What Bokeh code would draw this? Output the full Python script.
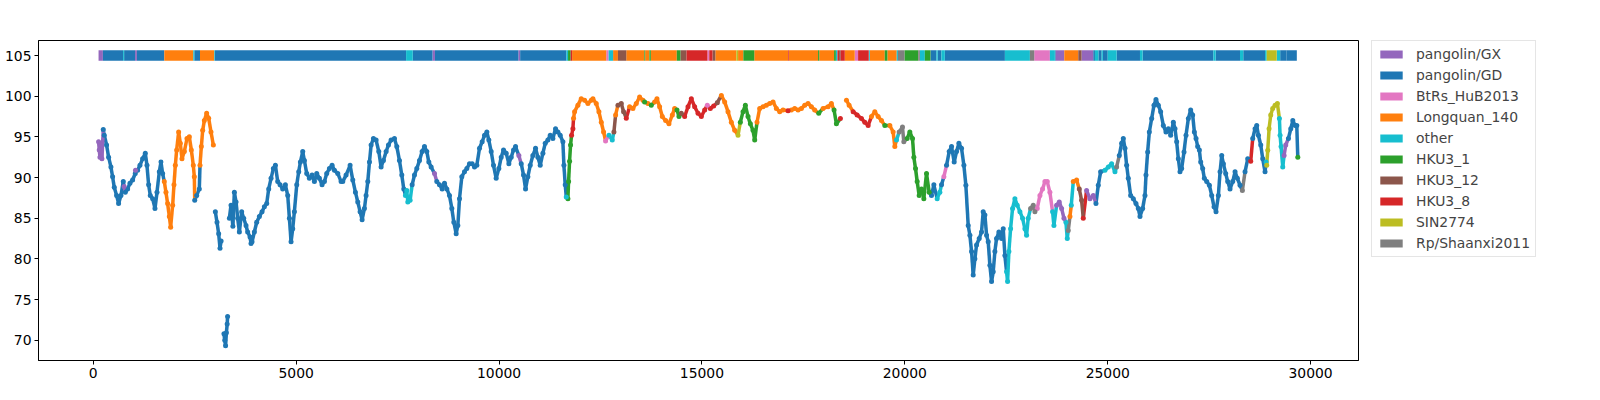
from bokeh.plotting import figure
from bokeh.models import Range1d, FixedTicker, Legend, LegendItem, ColumnDataSource
from bokeh.embed import file_html
from bokeh.resources import INLINE

# ---- categories ----
codes = ["GX", "GD", "HuB", "LQ", "oth", "H1", "H12", "H8", "SIN", "Sha"]
names = {"GX": "pangolin/GX", "GD": "pangolin/GD", "HuB": "BtRs_HuB2013",
         "LQ": "Longquan_140", "oth": "other", "H1": "HKU3_1", "H12": "HKU3_12",
         "H8": "HKU3_8", "SIN": "SIN2774", "Sha": "Rp/Shaanxi2011"}
colors = {"GX": "#9467bd", "GD": "#1f77b4", "HuB": "#e377c2", "LQ": "#ff7f0e",
          "oth": "#17becf", "H1": "#2ca02c", "H12": "#8c564b", "H8": "#d62728",
          "SIN": "#bcbd22", "Sha": "#7f7f7f"}

# ---- similarity points (position, identity %, closest source) ----
pos = [131, 147, 164, 190, 213,
       246, 271, 328, 378, 435, 476, 517, 575, 624, 682, 739, 760, 789, 846, 904, 969, 1035, 1040,
       1093, 1150, 1216, 1282, 1323, 1364, 1405, 1463, 1520, 1570, 1627, 1668, 1709,
       1750, 1791, 1832, 1874, 1907, 1956, 1989, 2022, 2055, 2104, 2145, 2186, 2244, 2309, 2367, 2416, 2465, 2490,
       2500, 2548, 2613,
       2630, 2663, 2696, 2737, 2794, 2844, 2901, 2959,
       3008, 3049, 3090, 3123, 3150,
       3220, 3240, 3260, 3280, 3300, 3310,
       3354, 3394, 3440, 3477, 3518, 3559, 3600, 3657, 3707, 3764, 3805, 3863, 3887, 3912, 3970, 4027, 4093,
       4159, 4216, 4274, 4323, 4381, 4438, 4488, 4545, 4603, 4668, 4734, 4792, 4833, 4874, 4915, 4956,
       5014, 5063, 5104, 5162, 5203, 5260, 5326, 5392, 5449, 5507, 5573, 5638, 5696, 5753, 5819, 5885,
       5943, 6025, 6107, 6148, 6230, 6329, 6395, 6460, 6518, 6575, 6625, 6682, 6723, 6765, 6806, 6847,
       6904, 6970, 7036, 7093, 7151, 7217, 7274, 7340, 7422, 7480, 7545, 7603, 7652,
       7693, 7726, 7751, 7808,
       7858, 7915, 7973, 8039, 8104, 8162, 8219, 8269, 8326,
       8409,
       8466, 8532, 8598, 8655, 8713, 8778, 8836, 8885, 8943, 8984, 9025, 9082, 9148, 9206, 9271, 9337,
       9395, 9452, 9518, 9584, 9642, 9699, 9748, 9806, 9863, 9929, 9995, 10053, 10110, 10176, 10242,
       10299, 10357, 10406,
       10488,
       10546, 10603, 10653, 10710, 10768, 10833, 10899, 10957, 11014, 11080, 11138, 11203, 11261, 11326,
       11392, 11450, 11507, 11573, 11598, 11631,
       11656,
       11697, 11713, 11738, 11762,
       11787, 11820,
       11836, 11861, 11943, 12025, 12108, 12190, 12272, 12313, 12395, 12461, 12519, 12576,
       12625,
       12708, 12790,
       12831,
       12872,
       12930, 13012, 13069,
       13135,
       13217, 13299, 13382, 13464, 13546,
       13587,
       13669,
       13751,
       13834, 13891, 13957, 14023, 14105, 14187, 14270, 14327,
       14385, 14434,
       14491,
       14574, 14656, 14738, 14820, 14903, 14985, 15067,
       15132,
       15206, 15289,
       15379,
       15478, 15560, 15642, 15724, 15807,
       15889,
       15946, 16012, 16070, 16135, 16193, 16258, 16300,
       16357, 16423, 16505, 16587, 16670, 16752, 16834, 16916, 16998,
       17122,
       17204, 17286, 17369, 17451, 17533, 17615, 17697, 17779,
       17878,
       17985, 18108, 18190,
       18256, 18313,
       18412,
       18561, 18627,
       18726, 18824, 18931, 19013, 19096,
       19178, 19260, 19342, 19424,
       19507,
       19630, 19712, 19753,
       19794,
       19860, 19942, 19975,
       20057, 20123, 20189, 20222, 20263, 20304, 20353, 20411, 20468, 20534, 20600,
       20657, 20715,
       20797, 20863,
       20904,
       20962,
       21028, 21093, 21151, 21216, 21274, 21332, 21397, 21455, 21504,
       21562, 21603, 21644, 21685, 21726, 21767, 21833, 21890, 21931, 21973, 22014, 22055, 22096, 22137,
       22178, 22219, 22260, 22318, 22383, 22425, 22466,
       22507, 22532, 22564, 22606, 22655, 22712, 22770, 22836, 22901, 22959, 23000, 23041,
       23099, 23164, 23205,
       23263, 23329, 23394, 23452, 23510, 23575,
       23641, 23674,
       23740, 23806, 23863, 23921,
       23970, 24003,
       24027,
       24069,
       24102,
       24151, 24233,
       24299, 24356,
       24397,
       24479, 24562, 24644,
       24710, 24767, 24825,
       24932, 25014, 25096, 25178,
       25219,
       25285, 25343, 25384, 25425, 25466, 25507, 25565, 25630, 25696, 25754, 25795, 25861, 25918, 25943,
       25984, 26025, 26083, 26140, 26189, 26247, 26304, 26370, 26436, 26494, 26551, 26617, 26658, 26699,
       26740, 26781, 26822, 26880, 26929, 26987, 27044, 27093, 27135, 27176, 27217, 27258, 27291, 27340,
       27381, 27439, 27505, 27562, 27620, 27669, 27727, 27768, 27809, 27850, 27907, 27957, 28014, 28080,
       28138, 28195, 28261,
       28318,
       28384, 28450,
       28524,
       28573, 28631, 28672, 28713, 28771, 28820, 28877,
       28902,
       28918, 28943, 28976, 29017, 29066, 29124, 29181,
       29231, 29247, 29272, 29313,
       29346, 29387,
       29453, 29511, 29561, 29618, 29659,
       29684]

ident = [94.4, 93.4, 92.5, 94.0, 92.3,
         95.9, 95.2, 94.0, 92.5, 91.3, 90.1, 88.8, 87.8, 86.8, 87.8, 89.5, 88.9, 88.2, 88.6, 89.3, 89.7, 90.5, 90.9,
         90.9, 91.5, 92.3, 93.0, 91.5, 89.1, 87.8, 87.4, 86.2, 88.2, 90.7, 91.9, 90.5,
         89.5, 88.2, 86.8, 85.2, 83.9, 86.6, 89.1, 91.5, 93.4, 95.6, 94.2, 92.3, 93.2, 94.8, 95.0, 93.4, 91.5, 90.1,
         87.2, 87.8, 88.6,
         91.5, 93.8, 95.8, 97.0, 97.9, 97.3, 95.6, 94.0,
         85.8, 84.5, 83.1, 81.3, 82.2,
         70.8, 70.0, 69.3, 70.9, 72.0, 72.9,
         85.0, 86.6, 84.0, 88.2, 87.0, 85.0, 83.3, 85.8, 85.0, 84.1, 83.3, 82.7, 81.9, 82.1, 83.3, 84.5, 85.2,
         85.8, 86.4, 86.8, 88.6, 89.9, 91.1, 91.5, 89.5, 89.1, 88.6, 89.1, 87.8, 85.0, 82.1, 83.7, 85.8,
         89.1, 90.7, 91.9, 93.2, 92.1, 90.5, 89.9, 90.3, 89.5, 90.5, 89.9, 89.1, 89.5, 90.5, 91.1, 91.5,
         90.9, 90.5, 89.5, 89.5, 90.3, 91.5, 89.7, 88.2, 87.0, 85.8, 84.8, 86.2, 87.8, 89.5, 91.9, 94.0,
         94.8, 94.6, 93.2, 91.3, 92.1, 93.2, 94.0, 94.6, 94.8, 93.8, 92.1, 90.3, 88.6,
         87.8, 88.4, 87.0, 87.2,
         89.1, 90.3, 91.1, 92.1, 93.2, 93.8, 93.2, 91.9, 91.3,
         90.5,
         89.5, 89.1, 88.6, 89.3, 88.6, 87.8, 86.2, 84.5, 83.1, 84.1, 87.4, 90.1, 90.7, 91.1, 91.7, 91.7,
         91.3, 91.5, 93.6, 94.4, 95.2, 95.6, 94.6, 93.2, 91.5, 89.9, 91.1, 92.5, 93.4, 93.0, 91.7,
         92.5, 93.4, 93.8,
         92.7,
         91.7, 90.3, 88.6, 90.1, 91.5, 92.7, 93.6, 92.5, 91.5, 93.0, 94.2, 94.6, 95.2, 94.8,
         96.0, 95.6, 95.2, 94.4, 91.5, 89.1,
         87.6,
         87.4, 89.5, 92.0, 94.0,
         95.2, 96.0,
         97.3, 98.1, 98.9, 99.7, 99.5, 99.1, 99.5, 99.7, 99.1, 98.1, 96.8, 95.6,
         94.5,
         95.2, 94.6,
         95.6,
         97.7,
         98.9, 99.1, 98.1,
         97.3,
         98.7, 98.5, 99.1, 99.9, 99.5,
         99.3,
         99.1,
         98.9,
         99.3, 99.7, 98.7, 97.5, 97.0, 96.6, 97.7, 98.5,
         98.3, 97.5,
         97.9,
         97.5, 98.7, 99.7, 98.7, 97.9, 97.5, 98.3,
         98.9,
         98.5, 98.8,
         99.2,
         100.1, 99.3, 98.1, 96.8, 95.8,
         95.2,
         96.8, 98.1, 98.9, 97.5, 96.6, 95.8, 94.6,
         96.8, 98.5, 98.7, 98.9, 99.1, 99.3, 98.5, 98.1, 98.3,
         98.2,
         98.3, 98.5, 98.3, 98.5, 98.9, 99.1, 98.7, 98.3,
         97.9,
         98.5, 98.7, 99.1,
         98.3, 96.6,
         97.25,
         99.5, 98.9,
         98.1, 97.7, 97.25, 96.8, 96.4,
         97.5, 98.1, 97.5, 97.0,
         96.4,
         96.4, 95.6, 93.8,
         94.6,
         95.6, 96.2, 94.4,
         94.8, 95.6, 94.8, 92.5, 91.1, 89.5, 87.8, 88.6, 87.4, 90.5, 88.2,
         87.8, 89.1,
         87.4, 88.2,
         89.1,
         90.1,
         91.5, 93.2, 93.8, 91.9, 93.2, 94.2, 93.6, 91.5, 89.05,
         84.1, 82.9, 80.9, 78.0, 80.0, 81.7, 82.5, 83.3, 85.8, 85.4, 82.9, 82.1, 79.2, 77.2,
         78.4, 80.9, 82.5, 83.3, 82.5, 83.7, 80.4,
         78.4, 77.2, 80.9, 83.7, 86.2, 87.4, 86.6, 85.8, 85.0, 83.7, 82.9, 85.0,
         86.2, 86.6, 85.8,
         86.2, 87.8, 88.6, 89.5, 89.5, 88.2,
         85.8, 84.1,
         86.6, 87.0, 86.2, 85.0,
         84.5, 82.5,
         83.5,
         85.2,
         86.6,
         89.5, 89.7,
         88.6, 87.2,
         85.0,
         88.4, 87.4, 87.8,
         86.8, 89.05, 90.7,
         90.9, 91.3, 91.7, 90.7,
         91.3,
         92.7, 94.2, 94.8, 93.6, 91.5, 89.9, 87.8, 87.4, 86.8, 86.2, 85.2, 86.2, 87.8, 90.3,
         93.15, 95.6, 97.25, 98.9, 99.6, 98.9, 98.1, 96.4, 95.6, 96.0, 95.2, 96.8, 96.0, 94.4,
         92.3, 90.7, 91.1, 93.15, 95.2, 97.25, 98.3, 97.7, 95.6, 94.8, 93.8, 93.4, 91.9, 91.1,
         89.9, 89.5, 89.05, 87.8, 86.4, 85.8, 87.8, 90.7, 92.7, 91.7, 90.5, 89.5, 88.6, 89.5,
         90.7, 89.9, 89.05,
         88.4,
         90.7, 92.3,
         92.0,
         94.8, 96.0, 96.4, 95.2, 94.0, 92.3, 90.7,
         91.9,
         91.5, 93.35, 96.0, 97.7, 98.5, 98.9, 99.1,
         97.25, 95.2, 93.8, 91.3,
         92.7, 94.0,
         94.8, 96.0, 97.0, 96.4, 96.4,
         92.5]

src = (["GX"] * 5
       + ["GD"] * 11 + ["GX"] + ["GD"] * 5 + ["GX"]
       + ["GD"] * 13
       + ["LQ"] * 18
       + ["GD"] * 3
       + ["LQ"] * 8
       + ["GD"] * 5
       + ["GD"] * 6
       + ["GD"] * 17
       + ["GD"] * 16
       + ["GD"] * 16
       + ["GD"] * 16
       + ["GD"] * 13
       + ["oth"] * 4
       + ["GD"] * 9
       + ["GX"]
       + ["GD"] * 16
       + ["GD"] * 15
       + ["GD"] * 3
       + ["GX"]
       + ["GD"] * 14
       + ["GD"] * 6
       + ["oth"]
       + ["H1"] * 4
       + ["H8"] * 2
       + ["LQ"] * 12
       + ["HuB"]
       + ["oth"] * 2
       + ["H12"]
       + ["LQ"]
       + ["H12"] * 3
       + ["H8"]
       + ["LQ"] * 5
       + ["H1"]
       + ["LQ"]
       + ["H1"]
       + ["LQ"] * 8
       + ["H1"] * 2
       + ["H12"]
       + ["H8"] * 7
       + ["HuB"]
       + ["H8"] * 2
       + ["H12"]
       + ["LQ"] * 5
       + ["SIN"]
       + ["H1"] * 7
       + ["LQ"] * 9
       + ["H8"]
       + ["LQ"] * 8
       + ["H1"]
       + ["LQ"] * 3
       + ["H1"] * 2
       + ["H8"]
       + ["LQ"] * 2
       + ["H8"] * 5
       + ["LQ"] * 4
       + ["H1"]
       + ["LQ"] * 3
       + ["oth"]
       + ["Sha"] * 3
       + ["H1"] * 11
       + ["GD"] * 2
       + ["oth"] * 2
       + ["GD"]
       + ["HuB"]
       + ["GD"] * 9
       + ["GD"] * 14
       + ["GD"] * 7
       + ["oth"] * 12
       + ["Sha"] * 3
       + ["HuB"] * 6
       + ["oth"] * 2
       + ["GX"] * 4
       + ["oth"] * 2
       + ["Sha"]
       + ["LQ"]
       + ["oth"]
       + ["LQ"] * 2
       + ["H12"] * 2
       + ["H8"]
       + ["GX"] * 3
       + ["GD"] * 3
       + ["oth"] * 4
       + ["Sha"]
       + ["GD"] * 14
       + ["GD"] * 14
       + ["GD"] * 14
       + ["GD"] * 14
       + ["GD"] * 3
       + ["Sha"]
       + ["GD"] * 2
       + ["H8"]
       + ["GD"] * 7
       + ["oth"]
       + ["SIN"] * 7
       + ["oth"] * 4
       + ["GX"] * 2
       + ["GD"] * 5
       + ["H1"])

# ---- closest-source bar along the genome ----
bar_start = [130, 237, 735, 760, 1030, 1075, 1750, 2465, 2490, 2630, 2983, 3000, 7709, 7874, 8360,
             8420, 10475, 10520, 11660, 11700, 11765, 11800, 12642, 12700, 12810, 12930, 13135,
             13580, 13600, 13705, 13740, 14380, 14475, 14620, 15135, 15180, 15260, 15330, 15848,
             15890, 16020, 16290, 17122, 17140, 17862, 17890, 18256, 18300, 18340, 18380, 18420,
             18520, 18765, 18848, 19111, 19136, 19505, 19570, 19800, 19830, 19990, 20330, 20370,
             20493, 20632, 20780, 20810, 20900, 20986, 22466, 23082, 23189, 23575, 23698, 23715,
             23929, 24274, 24356, 24644, 24685, 24770, 24850, 24880, 25000, 25220, 25795, 25860,
             27603, 27660, 28260, 28340, 28877, 28918, 29165, 29250, 29410]
bar_end = bar_start[1:] + [29660]
bar_src = ["GX", "GD", "oth", "GD", "GX", "GD", "LQ", "oth", "GD", "LQ", "oth", "GD", "oth", "GD", "GX",
           "GD", "GX", "GD", "oth", "H1", "H8", "LQ", "HuB", "oth", "LQ", "H12", "LQ",
           "H1", "LQ", "H1", "LQ", "H1", "H12", "H8", "HuB", "H8", "H12", "LQ", "SIN",
           "LQ", "H1", "LQ", "H8", "LQ", "H1", "LQ", "H1", "oth", "H8", "H12", "H8",
           "LQ", "HuB", "H8", "oth", "LQ", "H1", "LQ", "oth", "Sha", "H1", "Sha", "oth",
           "H1", "GD", "oth", "GD", "oth", "GD", "oth", "Sha", "HuB", "oth", "GD", "GX",
           "LQ", "H12", "GX", "GD", "oth", "GD", "oth", "GD", "oth", "GD", "oth", "GD",
           "oth", "GD", "oth", "GD", "oth", "SIN", "oth", "GD", "GD"]

x_ticks = [0, 5000, 10000, 15000, 20000, 25000, 30000]
y_ticks = [70, 75, 80, 85, 90, 95, 100, 105]
bar_level = 105

p = figure(frame_width=1320, frame_height=320,
           x_range=Range1d(-1350, 31180), y_range=Range1d(67.5, 106.85),
           output_backend="svg", toolbar_location=None,
           min_border_left=38, min_border_top=40, min_border_bottom=36, min_border_right=10)
p.background_fill_color = "white"
p.border_fill_color = "white"
p.outline_line_color = "black"
p.outline_line_width = 1
p.xgrid.visible = False
p.ygrid.visible = False

bar_r = {}
for c in codes:
    idx = [i for i, s in enumerate(bar_src) if s == c]
    ds = ColumnDataSource(dict(left=[bar_start[i] for i in idx], right=[bar_end[i] for i in idx],
                               bottom=[bar_level - 0.65] * len(idx), top=[bar_level + 0.65] * len(idx)))
    bar_r[c] = p.quad(left="left", right="right", bottom="bottom", top="top", source=ds,
                      fill_color=colors[c], line_color=None)

# connect neighbouring points of the densely sampled track (thick band look)
seg = {c: dict(x0=[], y0=[], x1=[], y1=[]) for c in codes}
for i in range(len(pos) - 1):
    if pos[i + 1] - pos[i] < 140 and abs(ident[i + 1] - ident[i]) < 5:
        d = seg[src[i]]
        d["x0"].append(pos[i]); d["y0"].append(ident[i])
        d["x1"].append(pos[i + 1]); d["y1"].append(ident[i + 1])

order = ["GD", "LQ", "H1", "H8", "H12", "oth", "HuB", "GX", "Sha", "SIN"]
for c in order:
    p.segment(x0="x0", y0="y0", x1="x1", y1="y1", source=ColumnDataSource(seg[c]),
              line_color=colors[c], line_width=3.5)
for c in order:
    idx = [i for i, s in enumerate(src) if s == c]
    ds = ColumnDataSource(dict(x=[pos[i] for i in idx], y=[ident[i] for i in idx]))
    p.scatter(x="x", y="y", source=ds, size=5, fill_color=colors[c], line_color=None)

for ax in (p.xaxis[0], p.yaxis[0]):
    ax.axis_line_color = "black"
    ax.major_tick_line_color = "black"
    ax.major_tick_out = 4
    ax.major_tick_in = 0
    ax.minor_tick_line_color = None
    ax.major_label_text_font = "DejaVu Sans"
    ax.major_label_text_font_size = "13.9px"
    ax.major_label_text_color = "black"
    ax.major_label_standoff = 3
p.xaxis[0].ticker = FixedTicker(ticks=x_ticks)
p.yaxis[0].ticker = FixedTicker(ticks=y_ticks)

items = [LegendItem(label=names[c], renderers=[bar_r[c]]) for c in codes]
legend = Legend(items=items, location=(13, 103), orientation="vertical",
                border_line_color="#cccccc", border_line_width=1, background_fill_alpha=0.8,
                label_text_font="DejaVu Sans", label_text_font_size="13.9px",
                glyph_width=28, glyph_height=10, label_standoff=11, spacing=5,
                padding=5, margin=14, label_height=14)
p.add_layout(legend, "right")

open("out.html", "w").write(file_html(p, INLINE))
